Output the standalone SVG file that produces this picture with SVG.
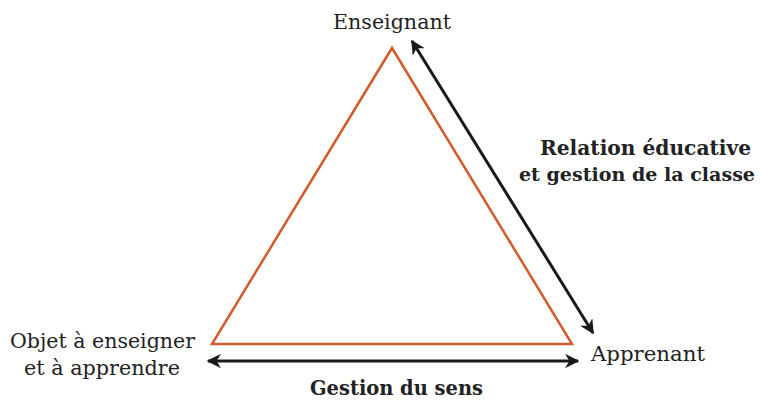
<svg xmlns="http://www.w3.org/2000/svg" width="762" height="400" viewBox="0 0 762 400">
<style>
.lbl{font-family:"DejaVu Serif","Liberation Serif",serif;font-size:20.5px;fill:#222}
.bold{font-family:"DejaVu Serif","Liberation Serif",serif;font-weight:bold;font-size:20px;fill:#222}
.bold2{font-family:"DejaVu Serif","Liberation Serif",serif;font-weight:bold;font-size:18.5px;fill:#222}
.conn{stroke:#1a1a1a;stroke-width:3;fill:none}
</style>
<defs>
<marker id="ah" viewBox="0 0 10 10" refX="9" refY="5" markerWidth="4.8" markerHeight="4.8" orient="auto-start-reverse" markerUnits="strokeWidth">
<path d="M0,0 L10,5 L0,10 L3,5 Z" fill="#1a1a1a"/>
</marker>
</defs>
<rect width="762" height="400" fill="#fff"/>
<g id="triangle">
<polygon points="392,48 212,344 572,344" fill="none" stroke="#d35a2a" stroke-width="2.5" stroke-linejoin="miter"/>
</g>
<g id="enseignant"><text class="lbl" x="392" y="29" text-anchor="middle" textLength="118" lengthAdjust="spacingAndGlyphs">Enseignant</text></g>
<g id="apprenant"><text class="lbl" x="591" y="361" textLength="114" lengthAdjust="spacingAndGlyphs">Apprenant</text></g>
<g id="objet"><text class="lbl" x="10" y="348" textLength="185" lengthAdjust="spacingAndGlyphs">Objet à enseigner</text><text class="lbl" x="24" y="375" textLength="156" lengthAdjust="spacingAndGlyphs">et à apprendre</text></g>
<g id="connectors">
<line class="conn" x1="412" y1="41" x2="593" y2="333" marker-start="url(#ah)" marker-end="url(#ah)"/>
<line class="conn" x1="208" y1="361" x2="578" y2="361" marker-start="url(#ah)" marker-end="url(#ah)"/>
</g>
<g id="label-relation"><text class="bold" x="540" y="155" textLength="211" lengthAdjust="spacingAndGlyphs">Relation éducative</text><text class="bold2" x="519" y="181" textLength="236" lengthAdjust="spacingAndGlyphs">et gestion de la classe</text></g>
<g id="label-sens"><text class="bold" x="310" y="395" textLength="173" lengthAdjust="spacingAndGlyphs">Gestion du sens</text></g>
</svg>
